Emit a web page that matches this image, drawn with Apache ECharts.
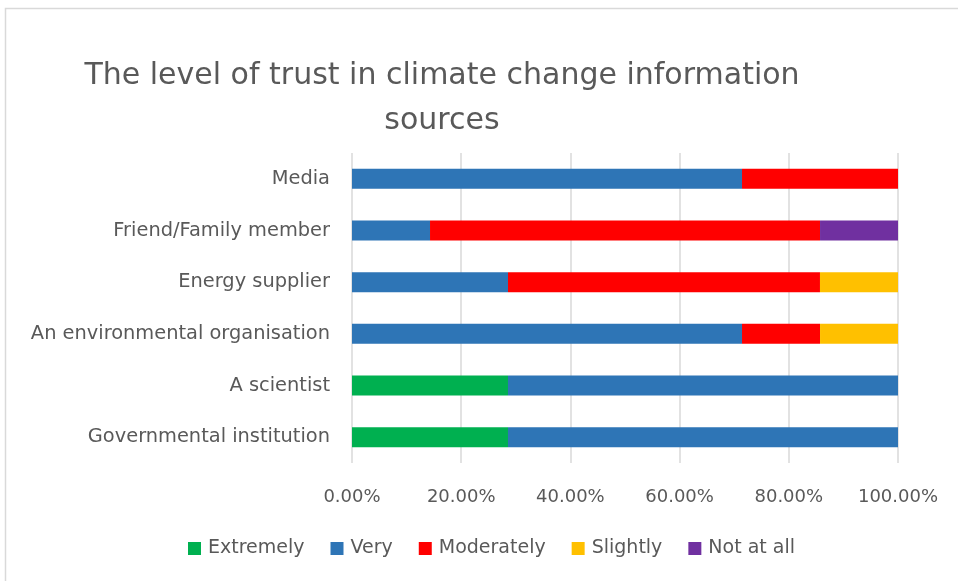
<!DOCTYPE html>
<html>
<head>
<meta charset="utf-8">
<script src="https://cdn.jsdelivr.net/npm/echarts@6/dist/echarts.min.js"></script>
<style>
  html, body { margin: 0; padding: 0; background: #fff; }
  #chart { width: 958px; height: 581px; }
</style>
</head>
<body>
<div id="chart"></div>
<script>
// Information sources, top to bottom
const categories = [
  'Media',
  'Friend/Family member',
  'Energy supplier',
  'An environmental organisation',
  'A scientist',
  'Governmental institution'
];

// Share of respondents per trust level (fractions of 1)
const extremely  = [0,      0,      0,      0,      0.2857, 0.2857];
const very       = [0.7143, 0.1429, 0.2857, 0.7143, 0.7143, 0.7143];
const moderately = [0.2857, 0.7143, 0.5714, 0.1429, 0,      0];
const slightly   = [0,      0,      0.1429, 0.1429, 0,      0];
const notAtAll   = [0,      0.1429, 0,      0,      0,      0];

const seriesNames = ['Extremely', 'Very', 'Moderately', 'Slightly', 'Not at all'];
const seriesData = [extremely, very, moderately, slightly, notAtAll];
const seriesColors = ['#00b050', '#2e75b6', '#ff0000', '#ffc000', '#7030a0'];

const FONT = '"DejaVu Sans", sans-serif';
const TEXT = '#595959';

const chart = echarts.init(document.getElementById('chart'));

chart.setOption({
  animation: false,
  title: {
    text: 'The level of trust in climate change information\nsources',
    left: 437,
    top: 49,
    textAlign: 'center',
    textStyle: {
      fontFamily: FONT,
      fontSize: 30,
      fontWeight: 'normal',
      color: TEXT,
      lineHeight: 45,
      align: 'center'
    }
  },
  graphic: [{
    type: 'rect',
    shape: { x: 5.5, y: 8.5, width: 1000, height: 1000 },
    style: { fill: 'none', stroke: '#d9d9d9', lineWidth: 1.5 },
    silent: true
  }],
  legend: {
    data: seriesNames,
    left: 188,
    top: 539,
    padding: 0,
    itemWidth: 13,
    itemHeight: 13,
    itemGap: 26,
    icon: 'rect',
    textStyle: { fontFamily: FONT, fontSize: 19, color: TEXT, padding: [0, 0, 0, 2] }
  },
  grid: { left: 352, right: 60, top: 153, bottom: 118, containLabel: false },
  xAxis: {
    type: 'value',
    min: 0,
    max: 1,
    interval: 0.2,
    axisLine: { show: false },
    axisTick: { show: false },
    splitLine: { lineStyle: { color: '#d9d9d9', width: 1.5 } },
    axisLabel: {
      margin: 25,
      fontFamily: FONT,
      fontSize: 18,
      color: TEXT,
      formatter: v => (v * 100).toFixed(2) + '%'
    }
  },
  yAxis: {
    type: 'category',
    data: categories,
    inverse: true,
    axisLine: { show: false },
    axisTick: { show: false },
    axisLabel: { margin: 22, fontFamily: FONT, fontSize: 19.4, color: TEXT }
  },
  series: seriesNames.map((name, i) => ({
    name: name,
    type: 'bar',
    stack: 'total',
    barWidth: 20,
    data: seriesData[i],
    itemStyle: { color: seriesColors[i] }
  }))
});
</script>
</body>
</html>
